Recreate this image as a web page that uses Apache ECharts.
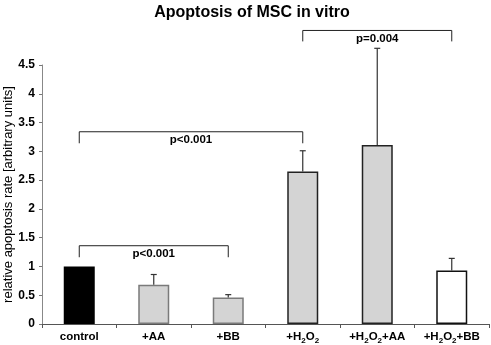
<!DOCTYPE html>
<html>
<head>
<meta charset="utf-8">
<script src="https://cdn.jsdelivr.net/npm/echarts@6/dist/echarts.min.js"></script>
<style>
  html, body { margin: 0; padding: 0; background: #fff; }
  #chart { width: 491px; height: 345px; }
</style>
</head>
<body>
<div id="chart"></div>
<script>
// Treatment groups (rich-text keys render H2O2 subscripts)
var categories = ['control', '+AA', '+BB', '+H{s|2}O{s|2}', '+H{s|2}O{s|2}+AA', '+H{s|2}O{s|2}+BB'];
// Mean relative apoptosis rate per group
var meanValues = [1.0, 0.68, 0.46, 2.65, 3.11, 0.93];
// Upper end of the error bar (mean + SD)
var errorTops = [1.0, 0.86, 0.51, 3.01, 4.79, 1.14];
// Y-axis ticks
var yTicks = [0, 0.5, 1, 1.5, 2, 2.5, 3, 3.5, 4, 4.5];
// Significance brackets: [fromIndex, toIndex, barLevel, legLevel]
var bracketSpans = [[0, 2, 1.36, 1.16], [0, 3, 3.34, 3.14], [3, 5, 5.1, 4.91]];
var bracketLabels = ['p<0.001', 'p<0.001', 'p=0.004'];
var yAxisTitle = 'relative apoptosis rate [arbitrary units]';

var fills = ['#000000', '#d4d4d4', '#d4d4d4', '#d4d4d4', '#d4d4d4', '#ffffff'];
var borders = ['#000000', '#7a7a7a', '#7a7a7a', '#222222', '#222222', '#111111'];

var chart = echarts.init(document.getElementById('chart'), null, { renderer: 'canvas' });

var barData = meanValues.map(function (v, i) {
  return { value: v, itemStyle: { color: fills[i], borderColor: borders[i], borderWidth: 1.5 } };
});

var errData = meanValues.map(function (v, i) { return [i, v, errorTops[i]]; });
var bracketData = bracketSpans.map(function (b, i) { return [b[0], b[1], b[2], b[3], i]; });

var font = '"Liberation Sans", Arial, sans-serif';
var gridTop = 65, gridBottom = 21, chartH = 345;

chart.setOption({
  animation: false,
  title: {
    text: 'Apoptosis of MSC in vitro',
    left: 247, textAlign: 'center', top: 0,
    textStyle: { fontFamily: font, fontWeight: 'bold', fontSize: 16, color: '#000' }
  },
  // rotated y-axis title, centred on the plot height
  graphic: [{
    type: 'text',
    x: 8,
    y: (gridTop + chartH - gridBottom) / 2,
    rotation: Math.PI / 2,
    style: {
      text: yAxisTitle,
      textAlign: 'center', textVerticalAlign: 'middle',
      font: '13px ' + font, fill: '#000'
    }
  }],
  grid: { left: 42, right: 2, top: gridTop, bottom: gridBottom, containLabel: false, outerBoundsMode: 'none' },
  xAxis: {
    type: 'category',
    data: categories,
    axisLine: { lineStyle: { color: '#555', width: 1 } },
    axisTick: { show: true, length: 4, lineStyle: { color: '#555' } },
    axisLabel: {
      interval: 0,
      margin: 5,
      lineHeight: 16,
      fontFamily: font, fontWeight: 'bold', fontSize: 11.5, color: '#000',
      rich: {
        s: { fontFamily: font, fontWeight: 'bold', fontSize: 8, lineHeight: 10, verticalAlign: 'bottom', color: '#000' }
      }
    }
  },
  yAxis: {
    type: 'value',
    min: 0, max: 4.5, interval: 0.5,
    axisLine: { show: true, lineStyle: { color: '#888', width: 1 } },
    axisTick: { show: true, length: 3, lineStyle: { color: '#777' } },
    splitLine: { show: false },
    axisLabel: {
      margin: 7,
      fontFamily: font, fontWeight: 'bold', fontSize: 12, color: '#000',
      formatter: function (v) { return yTicks.indexOf(v) >= 0 ? String(v) : ''; }
    }
  },
  series: [
    {
      type: 'bar',
      data: barData,
      barWidth: 31,
      z: 2
    },
    {
      type: 'custom',
      data: errData,
      z: 3,
      clip: false,
      renderItem: function (params, api) {
        var x = api.value(0);
        var base = api.coord([x, api.value(1)]);
        var top = api.coord([x, api.value(2)]);
        if (Math.abs(base[1] - top[1]) < 0.5) return { type: 'group', children: [] };
        var st = { stroke: '#333', lineWidth: 1.2 };
        return {
          type: 'group',
          children: [
            { type: 'line', shape: { x1: base[0], y1: base[1], x2: top[0], y2: top[1] }, style: st },
            { type: 'line', shape: { x1: top[0] - 3, y1: top[1], x2: top[0] + 3, y2: top[1] }, style: st }
          ]
        };
      }
    },
    {
      type: 'custom',
      data: bracketData,
      z: 4,
      clip: false,
      renderItem: function (params, api) {
        var a = api.coord([api.value(0), api.value(2)]);
        var b = api.coord([api.value(1), api.value(2)]);
        var legA = api.coord([api.value(0), api.value(3)]);
        var st = { stroke: '#222', lineWidth: 1, fill: null };
        return {
          type: 'group',
          children: [
            { type: 'polyline', shape: { points: [[a[0], legA[1]], [a[0], a[1]], [b[0], b[1]], [b[0], legA[1]]] }, style: st },
            {
              type: 'text',
              style: {
                text: bracketLabels[api.value(4)],
                x: (a[0] + b[0]) / 2, y: a[1] + 2,
                textAlign: 'center', textVerticalAlign: 'top',
                font: 'bold 11.5px ' + font, fill: '#000'
              }
            }
          ]
        };
      }
    }
  ]
});
</script>
</body>
</html>
